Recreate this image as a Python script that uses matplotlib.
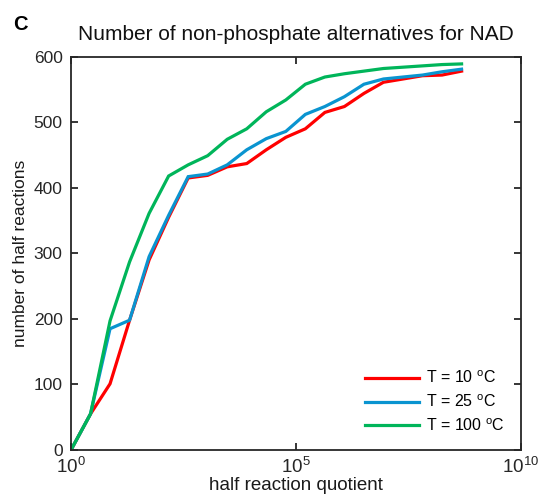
import numpy as np
import matplotlib

matplotlib.use("Agg")
import matplotlib.pyplot as plt

plt.rcParams["font.family"] = ["Liberation Sans", "DejaVu Sans"]
plt.rcParams["mathtext.fontset"] = "custom"
plt.rcParams["mathtext.rm"] = "Liberation Sans"
plt.rcParams["mathtext.it"] = "Liberation Sans"

# half reaction quotient (one point per e-fold)
quotient = [1.0, 2.718, 7.389, 20.09, 54.6, 148.4, 403.4, 1097, 2981, 8103,
            22026, 59874, 162755, 442413, 1.203e6, 3.269e6, 8.886e6, 2.415e7,
            6.566e7, 1.785e8, 4.852e8]

n_10C = [0, 55, 101, 198, 290, 355, 415, 419, 432, 437, 458, 477, 490, 515,
         524, 544, 561, 566, 571, 572, 578]
n_25C = [0, 55, 185, 198, 295, 358, 417, 421, 435, 458, 475, 486, 512, 524,
         539, 558, 566, 569, 572, 577, 581]
n_100C = [0, 55, 197, 287, 361, 418, 435, 449, 474, 490, 516, 534, 558, 569,
          574, 578, 582, 584, 586, 588, 589]

labels = ["T = 10 $^{\\mathregular{o}}$C", "T = 25 $^{\\mathregular{o}}$C",
          "T = 100 $^{\\mathregular{o}}$C"]
colors = ["#ff0000", "#0a94d0", "#00b55a"]

fig = plt.figure(figsize=(5.39, 5.0), dpi=100)
ax = fig.add_axes([0.1317, 0.1, 0.8343, 0.7866])

for y, lab, c in zip([n_10C, n_25C, n_100C], labels, colors):
    ax.plot(quotient, y, color=c, lw=2.3, label=lab, solid_joinstyle="miter")

ax.set_xscale("log")
ax.set_xlim(1, 1e10)
ax.set_ylim(0, 600)
ax.set_xticks([1, 1e5, 1e10])
ax.set_xticklabels(["$\\mathregular{10^{0}}$", "$\\mathregular{10^{5}}$",
                    "$\\mathregular{10^{10}}$"])
ax.minorticks_off()
ax.set_yticks(range(0, 601, 100))

for s in ax.spines.values():
    s.set_linewidth(1.3)
    s.set_color("#262626")
ax.tick_params(direction="in", top=True, right=True, length=5, width=1.3,
               color="#262626", labelsize=12.5, labelcolor="#262626", pad=6)
ax.tick_params(axis="x", labelsize=13.5, pad=5)

ax.set_xlabel("half reaction quotient", fontsize=13.5, color="#1a1a1a", labelpad=0)
ax.set_ylabel("number of half reactions", fontsize=12.5, color="#1a1a1a", labelpad=4)
ax.set_title("Number of non-phosphate alternatives for NAD", fontsize=15,
             color="#111111", pad=12)
fig.text(0.024, 0.95, "C", fontsize=14.5, fontweight="bold", va="center")

ax.legend(loc="lower right", frameon=False, fontsize=11.5, handlelength=3.4,
          handletextpad=0.4, labelspacing=0.45, borderaxespad=0.6)

fig.savefig("out.png", dpi=100)
